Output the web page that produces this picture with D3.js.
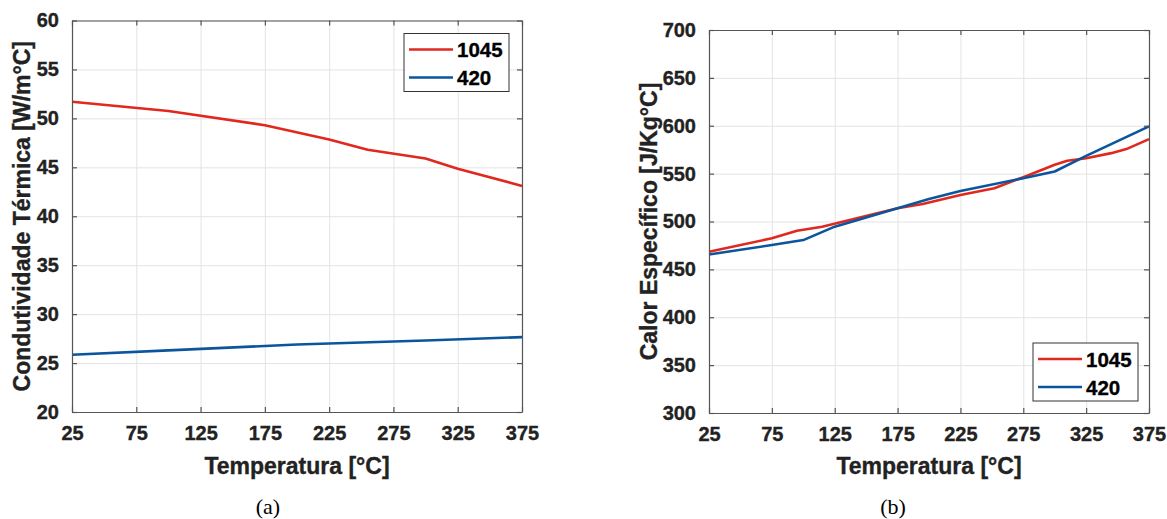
<!DOCTYPE html>
<html>
<head>
<meta charset="utf-8">
<script src="https://cdn.jsdelivr.net/npm/d3@7"></script>
<style>
  html, body { margin: 0; padding: 0; background: #fff; }
  svg { display: block; }
</style>
</head>
<body>
<svg id="chart" width="1167" height="519"></svg>
<script>
// Temperature ticks shared by both panels
const tempTicks = [25, 75, 125, 175, 225, 275, 325, 375];

// (a) Thermal conductivity [W/m°C]
const condTicks = [20, 25, 30, 35, 40, 45, 50, 55, 60];
const cond1045Temp = [25, 100, 175, 225, 255, 300, 325, 375];
const cond1045Val  = [51.7, 50.75, 49.3, 47.85, 46.8, 45.9, 44.85, 43.1];
const cond420Temp  = [25, 100, 200, 300, 375];
const cond420Val   = [25.85, 26.3, 26.9, 27.3, 27.65];

// (b) Specific heat [J/Kg°C]
const cpTicks = [300, 350, 400, 450, 500, 550, 600, 650, 700];
const cp1045Temp = [25, 75, 95, 115, 175, 195, 225, 252, 275, 300, 310, 325, 345, 357, 375];
const cp1045Val  = [468.4, 482.4, 490.4, 494.6, 513.8, 518.3, 527.7, 534.8, 546.3, 559.2, 563.4, 566.1, 571.4, 575.6, 586];
const cp420Temp  = [25, 75, 100, 125, 175, 200, 225, 275, 300, 325, 375];
const cp420Val   = [465.6, 475.4, 480.6, 494.6, 513.8, 523.6, 531.9, 545.2, 552.2, 568.6, 599.3];

const seriesNames = ["1045", "420"];
const seriesColors = ["#e1281f", "#0b559d"];

const svg = d3.select("#chart");
const FONT = "'Liberation Sans', Arial, Helvetica, sans-serif";
const TXT = "#222222";
const AXC = "#555555";

function zip(t, v) { return t.map((d, i) => ({ t: d, v: v[i] })); }

// bold text with a thin outline of the same colour for a heavier stroke
function heavy(sel, size, color) {
  return sel.style("font-family", FONT).style("font-weight", "700").style("font-size", size + "px")
    .style("fill", color).style("stroke", color).style("stroke-width", "0.35px");
}

function panel(cfg) {
  const x = d3.scaleLinear().domain([25, 375]).range([cfg.left, cfg.right]);
  const y = d3.scaleLinear().domain(cfg.yDomain).range([cfg.bottom, cfg.top]);
  const w = cfg.right - cfg.left, h = cfg.bottom - cfg.top;
  const g = svg.append("g");

  // grid
  g.append("g")
    .attr("transform", `translate(0,${cfg.bottom})`)
    .call(d3.axisBottom(x).tickValues(tempTicks).tickSize(-h).tickFormat(""))
    .call(a => a.select(".domain").remove())
    .call(a => a.selectAll("line").attr("stroke", "#e3e3e3").attr("stroke-width", 1));
  g.append("g")
    .attr("transform", `translate(${cfg.left},0)`)
    .call(d3.axisLeft(y).tickValues(cfg.yTicks).tickSize(-w).tickFormat(""))
    .call(a => a.select(".domain").remove())
    .call(a => a.selectAll("line").attr("stroke", "#e3e3e3").attr("stroke-width", 1));

  // series
  const line = d3.line().x(d => x(d.t)).y(d => y(d.v));
  cfg.series.forEach((s, i) => {
    g.append("path")
      .datum(s)
      .attr("fill", "none")
      .attr("stroke", seriesColors[i])
      .attr("stroke-width", 2.6)
      .attr("stroke-linejoin", "round")
      .attr("d", line);
  });

  // axes box with inward ticks on all sides
  const styleAxis = a => {
    a.attr("font-family", null).attr("font-size", null);
    a.select(".domain").attr("stroke", AXC).attr("stroke-width", 1.2);
    a.selectAll(".tick line").attr("stroke", AXC).attr("stroke-width", 1.2);
    heavy(a.selectAll(".tick text"), 20, TXT);
  };
  g.append("g")
    .attr("transform", `translate(0,${cfg.bottom})`)
    .call(d3.axisBottom(x).tickValues(tempTicks).tickSizeInner(-5).tickSizeOuter(0).tickPadding(14))
    .call(styleAxis);
  g.append("g")
    .attr("transform", `translate(0,${cfg.top})`)
    .call(d3.axisTop(x).tickValues(tempTicks).tickSizeInner(-5).tickSizeOuter(0).tickFormat(""))
    .call(styleAxis);
  g.append("g")
    .attr("transform", `translate(${cfg.left},0)`)
    .call(d3.axisLeft(y).tickValues(cfg.yTicks).tickSizeInner(-5).tickSizeOuter(0).tickPadding(13))
    .call(styleAxis);
  g.append("g")
    .attr("transform", `translate(${cfg.right},0)`)
    .call(d3.axisRight(y).tickValues(cfg.yTicks).tickSizeInner(-5).tickSizeOuter(0).tickFormat(""))
    .call(styleAxis);

  // axis titles
  heavy(g.append("text")
    .attr("x", (cfg.left + cfg.right) / 2).attr("y", 474)
    .attr("text-anchor", "middle"), 23, TXT)
    .text("Temperatura [°C]");
  heavy(g.append("text")
    .attr("transform", `translate(${cfg.yLabelX},${(cfg.top + cfg.bottom) / 2}) rotate(-90)`)
    .attr("text-anchor", "middle"), 23, TXT)
    .text(cfg.yLabel);

  // legend
  const L = cfg.legend;
  const lg = g.append("g").attr("transform", `translate(${L.x},${L.y})`);
  lg.append("rect").attr("width", 105).attr("height", 58)
    .attr("fill", "#fff").attr("stroke", "#333").attr("stroke-width", 1);
  seriesNames.forEach((n, i) => {
    const yy = 16 + i * 28;
    lg.append("line").attr("x1", 5).attr("x2", 49).attr("y1", yy).attr("y2", yy)
      .attr("stroke", seriesColors[i]).attr("stroke-width", 2.6);
    heavy(lg.append("text").attr("x", 53).attr("y", yy + 7.5), 20.5, "#000").text(n);
  });

  // subfigure caption
  svg.append("text")
    .attr("x", cfg.captionX).attr("y", 514)
    .attr("text-anchor", "middle")
    .style("font-family", "'Liberation Serif', 'Times New Roman', serif")
    .style("font-size", "22px").attr("fill", "#000")
    .text(cfg.caption);
}

panel({
  left: 72, right: 522, top: 20.5, bottom: 412,
  yDomain: [20, 60], yTicks: condTicks,
  series: [zip(cond1045Temp, cond1045Val), zip(cond420Temp, cond420Val)],
  yLabel: "Condutividade Térmica [W/m°C]", yLabelX: 30,
  legend: { x: 404, y: 33.5 },
  caption: "(a)", captionX: 268
});

panel({
  left: 709, right: 1149, top: 30, bottom: 413,
  yDomain: [300, 700], yTicks: cpTicks,
  series: [zip(cp1045Temp, cp1045Val), zip(cp420Temp, cp420Val)],
  yLabel: "Calor Específico [J/Kg°C]", yLabelX: 657,
  legend: { x: 1033, y: 343 },
  caption: "(b)", captionX: 893
});
</script>
</body>
</html>
